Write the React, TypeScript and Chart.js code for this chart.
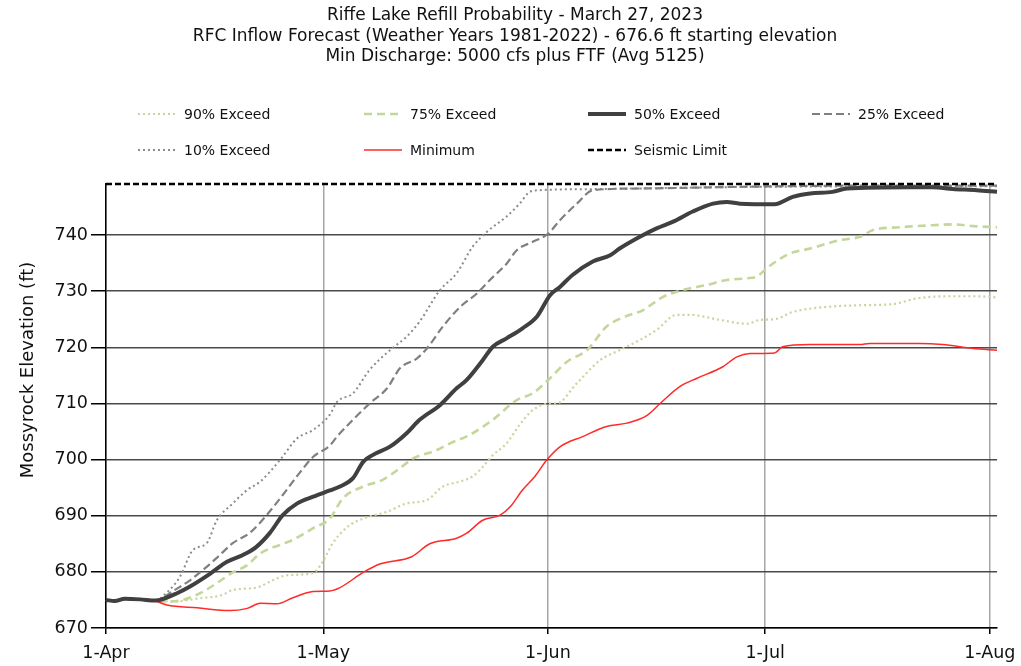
import React, { useEffect, useRef } from 'react';
import { Chart, registerables } from 'chart.js';

Chart.register(...registerables);

const FONT = "'DejaVu Sans', Verdana, sans-serif";

// ---------- text ----------
const titleLines = [
  'Riffe Lake Refill Probability - March 27, 2023',
  'RFC Inflow Forecast (Weather Years 1981-2022) - 676.6 ft starting elevation',
  'Min Discharge: 5000 cfs plus FTF (Avg 5125)',
];
const yAxisTitle = 'Mossyrock Elevation (ft)';

// ---------- axes ----------
// x = days since 1-Apr
const monthTickDays = [0, 30, 61, 91, 122];
const monthTickLabels = ['1-Apr', '1-May', '1-Jun', '1-Jul', '1-Aug'];
const elevationTicks = [670, 680, 690, 700, 710, 720, 730, 740];
const xMin = 0;
const xMax = 123;
const yMin = 670;
const yMax = 749.1;

// ---------- series (day, elevation ft) ----------
const seismicDays = [0, 123];
const seismicVals = [749.1, 749.1];

const minDays = [0, 1.2, 2.6, 4.7, 6.8, 8.4, 12.6, 17.1, 19.5, 21.3, 23.6, 25.8, 28.6, 30.9, 32.3, 35.5, 37.8, 42.2, 44.7, 48.4, 49.8, 52.0, 54.4, 55.8, 57.5, 59.2, 60.9, 62.7, 65.8, 69.1, 71.9, 74.7, 76.5, 79.2, 81.6, 85.1, 87.1, 88.9, 92.3, 93.4, 97.2, 104.1, 105.4, 112.3, 115.5, 119.7, 123];
const minVals = [675.0, 674.8, 675.2, 675.1, 674.8, 674.1, 673.6, 673.1, 673.5, 674.4, 674.3, 675.4, 676.5, 676.6, 677.2, 679.9, 681.4, 682.7, 685.0, 686.0, 686.9, 689.2, 690.1, 691.6, 694.6, 697.0, 700.0, 702.3, 704.1, 705.9, 706.5, 707.9, 710.0, 713.0, 714.5, 716.5, 718.3, 718.9, 719.0, 720.1, 720.5, 720.5, 720.7, 720.7, 720.5, 719.8, 719.5];

const p50Days = [0, 1.2, 2.6, 4.7, 6.8, 7.5, 9.8, 11.6, 14.4, 16.7, 18.9, 20.8, 22.6, 24.4, 26.4, 28.6, 30.9, 32.3, 34.1, 35.5, 36.8, 39.2, 41.5, 43.3, 46.1, 48.4, 49.8, 52.0, 53.4, 55.3, 57.5, 59.5, 61.3, 62.7, 64.4, 67.2, 69.6, 70.9, 73.7, 76.0, 78.3, 81.0, 83.8, 85.7, 87.5, 92.3, 94.8, 97.2, 100.3, 102.3, 111.0, 114.1, 116.9, 120.2, 123];
const p50Vals = [675.0, 674.8, 675.2, 675.1, 674.9, 675.0, 676.2, 677.4, 679.7, 681.8, 683.0, 684.5, 686.9, 690.1, 692.2, 693.4, 694.5, 695.2, 696.7, 699.6, 700.8, 702.3, 704.7, 707.1, 709.7, 712.7, 714.2, 717.7, 720.1, 721.6, 723.4, 725.5, 729.3, 730.8, 732.9, 735.3, 736.4, 737.6, 739.7, 741.2, 742.4, 744.2, 745.6, 745.9, 745.6, 745.5, 746.8, 747.4, 747.7, 748.3, 748.5, 748.5, 748.2, 748.0, 747.7];

const p75Days = [0, 1.2, 2.6, 4.7, 6.8, 8.4, 10.6, 13.0, 15.3, 17.5, 19.5, 21.3, 24.0, 25.8, 28.6, 30.9, 32.7, 35.5, 38.2, 40.2, 42.4, 45.7, 47.5, 50.2, 53.4, 56.7, 58.9, 61.3, 63.6, 66.4, 69.1, 71.9, 74.1, 76.9, 79.6, 82.9, 85.7, 88.5, 89.8, 91.6, 94.4, 97.2, 101.3, 104.1, 105.9, 109.6, 113.3, 116.9, 119.7, 123];
const p75Vals = [675.0, 674.8, 675.2, 675.1, 674.9, 674.7, 675.0, 676.2, 678.0, 679.9, 681.2, 683.3, 684.8, 685.7, 687.8, 689.5, 693.1, 695.2, 696.4, 698.1, 700.2, 701.7, 702.9, 704.4, 707.1, 710.6, 711.8, 714.5, 717.4, 719.5, 723.7, 725.6, 726.6, 729.0, 730.2, 731.1, 732.0, 732.3, 732.6, 734.5, 736.7, 737.6, 739.1, 739.7, 740.9, 741.4, 741.7, 741.9, 741.6, 741.4];

const p90Days = [0, 1.2, 2.6, 4.7, 6.8, 9.2, 13.0, 16.1, 17.5, 20.8, 23.0, 25.0, 28.6, 29.9, 31.3, 33.3, 35.5, 38.8, 41.5, 44.3, 46.5, 48.9, 50.6, 52.0, 53.4, 55.3, 57.1, 58.9, 61.3, 62.2, 65.0, 68.2, 70.9, 73.7, 76.0, 78.8, 80.6, 84.7, 88.5, 90.3, 92.3, 94.8, 99.5, 104.1, 108.6, 111.9, 116.1, 120.2, 123];
const p90Vals = [675.0, 674.8, 675.2, 675.1, 674.9, 674.7, 675.3, 675.9, 676.8, 677.2, 678.5, 679.4, 679.8, 681.8, 685.1, 688.0, 689.5, 690.7, 692.2, 692.8, 695.2, 696.1, 697.0, 698.7, 700.8, 702.9, 706.2, 708.8, 710.0, 710.0, 713.6, 717.7, 719.5, 721.3, 723.1, 725.8, 725.8, 724.9, 724.2, 724.9, 725.0, 726.3, 727.2, 727.5, 727.7, 728.7, 729.1, 729.1, 728.9];

const p25Days = [0, 1.2, 2.6, 4.7, 6.8, 7.5, 8.8, 11.6, 13.9, 15.3, 17.5, 19.9, 22.1, 24.4, 26.7, 28.6, 30.9, 31.9, 34.1, 36.4, 38.8, 40.6, 42.9, 44.3, 46.5, 48.9, 51.2, 53.0, 55.3, 56.7, 58.9, 61.0, 62.7, 65.0, 67.2, 73.7, 87.5, 102.7, 123];
const p25Vals = [675.0, 674.8, 675.2, 675.1, 674.9, 675.0, 676.2, 678.5, 680.9, 682.5, 685.1, 687.0, 690.0, 693.7, 697.6, 700.5, 702.5, 704.1, 707.1, 710.0, 712.7, 716.3, 718.0, 719.8, 723.7, 727.2, 729.6, 732.0, 734.9, 737.3, 738.8, 740.2, 742.7, 745.6, 748.0, 748.3, 748.6, 748.8, 748.8];

const p10Days = [0, 1.2, 2.6, 4.7, 6.8, 8.3, 10.2, 12.0, 13.9, 15.3, 17.5, 19.5, 21.3, 24.0, 26.4, 28.6, 30.9, 31.9, 34.1, 36.4, 39.2, 41.5, 43.3, 46.1, 48.4, 50.6, 52.6, 55.3, 57.1, 58.5, 59.9, 68.2, 90.3, 123];
const p10Vals = [675.0, 674.8, 675.2, 675.1, 674.9, 676.2, 679.1, 683.9, 685.1, 689.2, 692.2, 694.6, 696.1, 699.9, 703.8, 705.3, 708.0, 710.3, 711.8, 716.0, 719.5, 721.9, 724.6, 730.2, 733.2, 737.9, 740.6, 743.3, 745.6, 747.7, 748.0, 748.2, 748.6, 748.7];

// legend order (reading order in the reference)
const legendOrder = ['90% Exceed', '75% Exceed', '50% Exceed', '25% Exceed', '10% Exceed', 'Minimum', 'Seismic Limit'];

function toPoints(days: number[], vals: number[]) {
  const n = Math.min(days.length, vals.length);
  const out: { x: number; y: number }[] = [];
  for (let i = 0; i < n; i++) out.push({ x: days[i], y: vals[i] });
  return out;
}

const GREEN = '#c4d79b';

function buildDatasets() {
  const base = { pointRadius: 0, fill: false, cubicInterpolationMode: 'monotone', clip: 6, borderCapStyle: 'butt', borderJoinStyle: 'round' };
  return [
    { ...base, label: 'Seismic Limit', data: toPoints(seismicDays, seismicVals), borderColor: '#000000', borderWidth: 2.5, borderDash: [6, 3] },
    { ...base, label: '50% Exceed', data: toPoints(p50Days, p50Vals), borderColor: '#404040', borderWidth: 4 },
    { ...base, label: 'Minimum', data: toPoints(minDays, minVals), borderColor: '#ff2a2a', borderWidth: 1.5 },
    { ...base, label: '25% Exceed', data: toPoints(p25Days, p25Vals), borderColor: '#808080', borderWidth: 2.2, borderDash: [8, 4] },
    { ...base, label: '75% Exceed', data: toPoints(p75Days, p75Vals), borderColor: GREEN, borderWidth: 2.6, borderDash: [8, 5] },
    { ...base, label: '10% Exceed', data: toPoints(p10Days, p10Vals), borderColor: '#8c8c8c', borderWidth: 2, borderDash: [2, 3] },
    { ...base, label: '90% Exceed', data: toPoints(p90Days, p90Vals), borderColor: GREEN, borderWidth: 2.2, borderDash: [2, 3] },
  ];
}

const decorPlugin = {
  id: 'decor',
  afterDraw(chart: any) {
    const ctx = chart.ctx as CanvasRenderingContext2D;
    ctx.save();
    // title
    ctx.fillStyle = '#111';
    ctx.font = `17px ${FONT}`;
    ctx.textAlign = 'center';
    ctx.textBaseline = 'middle';
    const titleY = [16, 36.5, 57];
    titleLines.forEach((t, i) => ctx.fillText(t, 515, titleY[i]));

    // y axis title
    ctx.save();
    ctx.translate(28, 370);
    ctx.rotate(-Math.PI / 2);
    ctx.font = `18px ${FONT}`;
    ctx.fillText(yAxisTitle, 0, 0);
    ctx.restore();

    // legend
    const colX = [138, 364, 588, 812];
    const rowY = [114, 150];
    const sampleLen = 38;
    ctx.font = `14px ${FONT}`;
    ctx.textAlign = 'left';
    legendOrder.forEach((label, i) => {
      const ds = chart.data.datasets.find((d: any) => d.label === label);
      if (!ds) return;
      const x = colX[i % 4];
      const y = rowY[Math.floor(i / 4)];
      ctx.save();
      ctx.strokeStyle = ds.borderColor;
      ctx.lineWidth = Math.min(ds.borderWidth, 4);
      ctx.setLineDash(ds.borderDash || []);
      ctx.lineCap = 'butt';
      ctx.beginPath();
      ctx.moveTo(x, y);
      ctx.lineTo(x + sampleLen, y);
      ctx.stroke();
      ctx.restore();
      ctx.fillStyle = '#111';
      ctx.fillText(label, x + sampleLen + 8, y + 1);
    });
    ctx.restore();
  },
};

export default function App() {
  const canvasRef = useRef<HTMLCanvasElement | null>(null);

  useEffect(() => {
    const canvas = canvasRef.current;
    if (!canvas) return;
    const chart = new Chart(canvas, {
      type: 'line',
      data: { datasets: buildDatasets() as any },
      options: {
        responsive: false,
        animation: false,
        devicePixelRatio: 1,
        events: [],
        layout: { padding: { top: 184, right: 24, left: 0, bottom: 0 } },
        plugins: {
          legend: { display: false },
          title: { display: false },
          tooltip: { enabled: false },
        },
        scales: {
          x: {
            type: 'linear',
            min: xMin,
            max: xMax,
            afterBuildTicks: (s: any) => {
              s.ticks = monthTickDays.map((v) => ({ value: v }));
            },
            afterFit: (s: any) => {
              s.height = 38;
              s.paddingLeft = 0;
              s.paddingRight = 0;
            },
            ticks: {
              autoSkip: false,
              maxRotation: 0,
              padding: 9,
              color: '#111',
              font: { family: FONT, size: 17.5 },
              callback: (v: any) => {
                const i = monthTickDays.indexOf(Number(v));
                return i >= 0 ? monthTickLabels[i] : '';
              },
            },
            grid: { color: '#a6a6a6', lineWidth: 1.5, tickLength: 6, tickColor: '#000' },
            border: { color: '#000', width: 1.5 },
          },
          y: {
            type: 'linear',
            min: yMin,
            max: yMax,
            afterBuildTicks: (s: any) => {
              s.ticks = elevationTicks.map((v) => ({ value: v }));
            },
            afterFit: (s: any) => {
              s.width = 106;
              s.paddingTop = 0;
              s.paddingBottom = 0;
            },
            ticks: {
              padding: 3,
              color: '#111',
              font: { family: FONT, size: 17.5 },
            },
            grid: { color: '#4a4a4a', lineWidth: 1.5, tickLength: 15, tickColor: '#000' },
            border: { color: '#000', width: 1.5 },
          },
        },
      },
      plugins: [decorPlugin],
    } as any);
    return () => chart.destroy();
  }, []);

  return (
    <div style={{ position: 'fixed', left: 0, top: 0, width: 1021, height: 666, background: '#fff' }}>
      <canvas ref={canvasRef} width={1021} height={666} style={{ display: 'block' }} />
    </div>
  );
}
